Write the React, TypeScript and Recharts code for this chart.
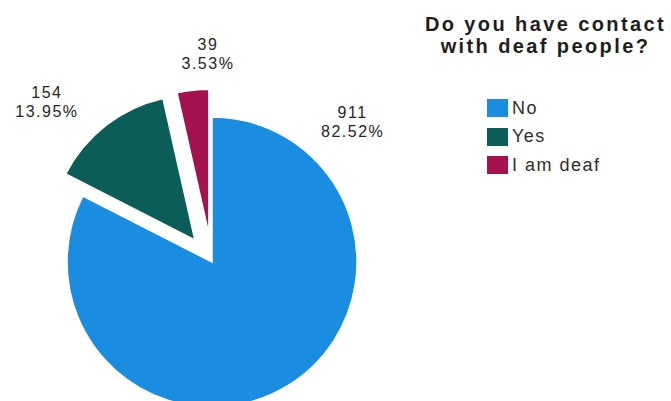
import React from "react";
import { PieChart, Pie, Cell, Legend } from "recharts";

// categories and counts
const categories = ["No", "Yes", "I am deaf"];
const counts = [911, 154, 39];
const colors = ["#1B8DE0", "#0B5E58", "#A5124F"];

const legendTitle = ["Do you have contact", "with deaf people?"];

const total = counts.reduce((a, b) => a + b, 0);
const data = categories.map((name, i) => ({ name, value: counts[i] }));

// how far each slice is pulled out of the pie, and where its label sits
const explode = [0, 28, 28];
const labelPlace = [
  { angle: 45.6, r: 201 },
  { angle: 136.2, r: 205 },
  { angle: 90.3, r: 184 },
];

const RAD = Math.PI / 180;
const CX = 212;
const CY = 262;
const R = 145;
const FONT = "'Liberation Sans', Arial, sans-serif";

// mid angle of each slice (clockwise from 12 o'clock, recharts degrees)
const midAngles = (() => {
  let acc = 0;
  return counts.map((c) => {
    const start = 90 - (acc / total) * 360;
    acc += c;
    const end = 90 - (acc / total) * 360;
    return (start + end) / 2;
  });
})();

const makeLabel = (own: number) => (props: any) => {
  const { cx, cy, index } = props;
  if (index !== own) return null;
  const p = labelPlace[own];
  const x = cx + p.r * Math.cos(p.angle * RAD);
  const y = cy - p.r * Math.sin(p.angle * RAD);
  const pct = ((counts[own] / total) * 100).toFixed(2) + "%";
  return (
    <text
      x={x}
      y={y}
      textAnchor="middle"
      fill="#262626"
      fontSize={16}
      fontFamily={FONT}
      letterSpacing={1.5}
    >
      <tspan x={x} dy={0}>
        {counts[own]}
      </tspan>
      <tspan x={x} dy={19}>
        {pct}
      </tspan>
    </text>
  );
};

const LegendBox = () => (
  <div style={{ fontFamily: FONT, width: 251 }}>
    <div
      style={{
        paddingTop: 13,
        textAlign: "center",
        fontWeight: "bold",
        fontSize: 20,
        lineHeight: "22px",
        letterSpacing: 2.4,
        color: "#1e1e1e",
      }}
    >
      {legendTitle.map((t) => (
        <div key={t}>{t}</div>
      ))}
    </div>
    <div style={{ marginTop: 37, marginLeft: 67 }}>
      {categories.map((c, i) => (
        <div
          key={c}
          style={{ display: "flex", alignItems: "center", height: 28.5 }}
        >
          <span
            style={{
              display: "inline-block",
              width: 21,
              height: 18,
              background: colors[i],
              marginRight: 4,
            }}
          />
          <span style={{ fontSize: 18, letterSpacing: 1.5, color: "#2e2e2e" }}>
            {c}
          </span>
        </div>
      ))}
    </div>
  </div>
);

export default function App() {
  return (
    <div style={{ position: "absolute", left: 0, top: 0, background: "#fff" }}>
      <PieChart
        width={671}
        height={401}
        margin={{ top: 0, right: 0, bottom: 0, left: 0 }}
      >
        {categories.map((_, own) => {
          const dx = explode[own] * Math.cos(midAngles[own] * RAD);
          const dy = -explode[own] * Math.sin(midAngles[own] * RAD);
          return (
            <Pie
              key={own}
              data={data}
              dataKey="value"
              nameKey="name"
              cx={CX + dx}
              cy={CY + dy}
              innerRadius={0}
              outerRadius={R}
              startAngle={90}
              endAngle={-270}
              labelLine={false}
              label={makeLabel(own)}
              isAnimationActive={false}
            >
              {data.map((d, i) => (
                <Cell
                  key={d.name}
                  fill={i === own ? colors[i] : "transparent"}
                  stroke={i === own ? "#fff" : "none"}
                  strokeWidth={1.5}
                />
              ))}
            </Pie>
          );
        })}
        <Legend
          content={() => <LegendBox />}
          wrapperStyle={{ position: "absolute", left: 420, top: 0, width: 251 }}
        />
      </PieChart>
    </div>
  );
}
